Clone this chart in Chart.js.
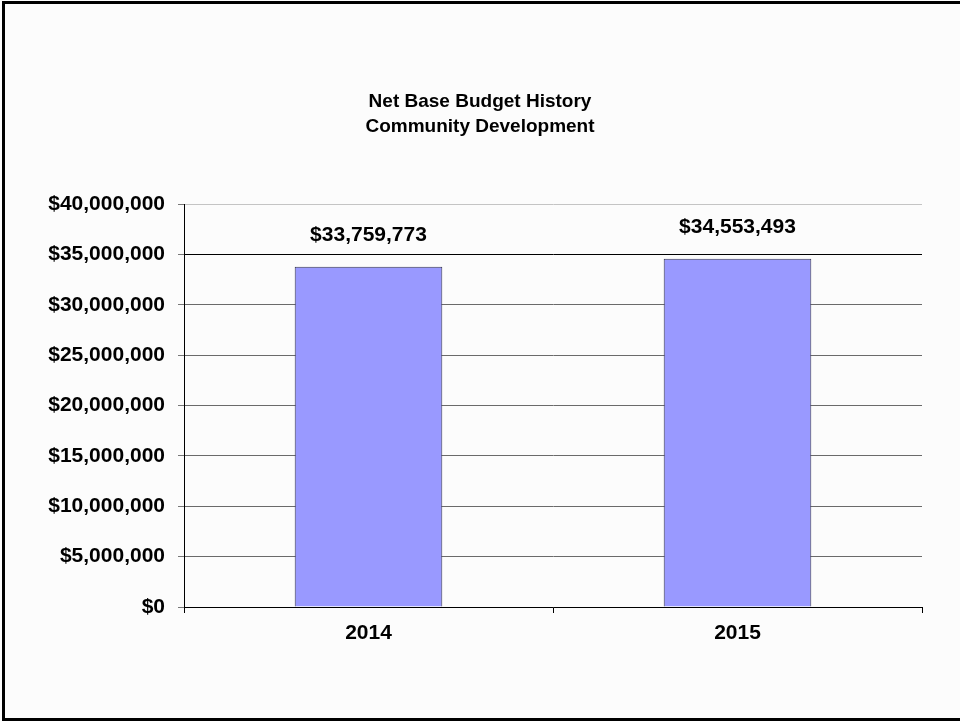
<!DOCTYPE html>
<html>
<head>
<meta charset="utf-8">
<script src="https://cdn.jsdelivr.net/npm/chart.js@4/dist/chart.umd.min.js"></script>
<style>
  html, body { margin: 0; padding: 0; background: #fcfcfc; }
  #wrap { width: 960px; height: 721px; }
</style>
</head>
<body>
<div id="wrap"><canvas id="c" width="960" height="721"></canvas></div>
<script>
// Net base budget by fiscal year
const years = ['2014', '2015'];
const netBudget = [33759773, 34553493];
const yTickValues = [0, 5000000, 10000000, 15000000, 20000000, 25000000, 30000000, 35000000, 40000000];
const titleLines = ['Net Base Budget History', 'Community Development'];

const FONT = '"Liberation Sans", Arial, Helvetica, sans-serif';
const money = v => '$' + Math.round(v).toLocaleString('en-US');

// page background, the slide frame and the two-line heading centred on the page
const framePlugin = {
  id: 'frame',
  beforeDraw(chart) {
    const ctx = chart.ctx;
    ctx.save();
    ctx.fillStyle = '#fcfcfc';
    ctx.fillRect(0, 0, chart.width, chart.height);
    ctx.restore();
  },
  afterDraw(chart) {
    const ctx = chart.ctx;
    ctx.save();
    ctx.fillStyle = '#000';
    ctx.font = 'bold 19px ' + FONT;
    ctx.textAlign = 'center';
    ctx.textBaseline = 'middle';
    titleLines.forEach((line, i) => ctx.fillText(line, chart.width / 2, 102 + i * 25));
    ctx.strokeStyle = '#000';
    ctx.lineWidth = 3;
    ctx.strokeRect(3.5, 2.5, chart.width + 10, chart.height - 4);
    ctx.restore();
  }
};

// value labels above each bar
const valueLabels = {
  id: 'valueLabels',
  afterDatasetsDraw(chart) {
    const ctx = chart.ctx;
    const meta = chart.getDatasetMeta(0);
    ctx.save();
    ctx.font = 'bold 21px ' + FONT;
    ctx.fillStyle = '#000';
    ctx.textAlign = 'center';
    ctx.textBaseline = 'middle';
    meta.data.forEach((bar, i) => {
      ctx.fillText(money(chart.data.datasets[0].data[i]), bar.x, bar.y - 32);
    });
    ctx.restore();
  }
};

new Chart(document.getElementById('c'), {
  type: 'bar',
  data: {
    labels: years,
    datasets: [{
      data: netBudget,
      backgroundColor: '#9999ff',
      borderColor: '#33334d',
      borderWidth: 1,
      barPercentage: 0.4,
      categoryPercentage: 1.0
    }]
  },
  options: {
    responsive: false,
    animation: false,
    layout: { padding: { left: 0, right: 38, top: 204, bottom: 0 } },
    plugins: {
      legend: { display: false },
      tooltip: { enabled: false },
      title: { display: false }
    },
    scales: {
      x: {
        offset: true,
        grid: {
          display: true,
          drawOnChartArea: false,
          offset: true,
          tickLength: 6,
          tickColor: '#000'
        },
        border: { display: true, color: '#000', width: 1 },
        ticks: {
          color: '#000',
          padding: 8,
          font: { family: FONT, size: 21, weight: 'bold' }
        },
        afterFit(scale) { scale.height = 114; }
      },
      y: {
        min: 0,
        max: 40000000,
        afterBuildTicks(scale) { scale.ticks = yTickValues.map(v => ({ value: v })); },
        grid: {
          drawOnChartArea: true,
          tickLength: 6,
          tickColor: '#777',
          color(ctx) {
            const v = ctx.tick ? ctx.tick.value : 0;
            if (v === 40000000) return '#c4c4c4';
            if (v === 35000000) return '#000';
            return '#6a6a6a';
          }
        },
        border: { display: true, color: '#000', width: 1 },
        ticks: {
          color: '#000',
          padding: 13,
          font: { family: FONT, size: 21, weight: 'bold' },
          callback: v => money(v)
        },
        afterFit(scale) { scale.width = 184; }
      }
    }
  },
  plugins: [framePlugin, valueLabels]
});
</script>
</body>
</html>
